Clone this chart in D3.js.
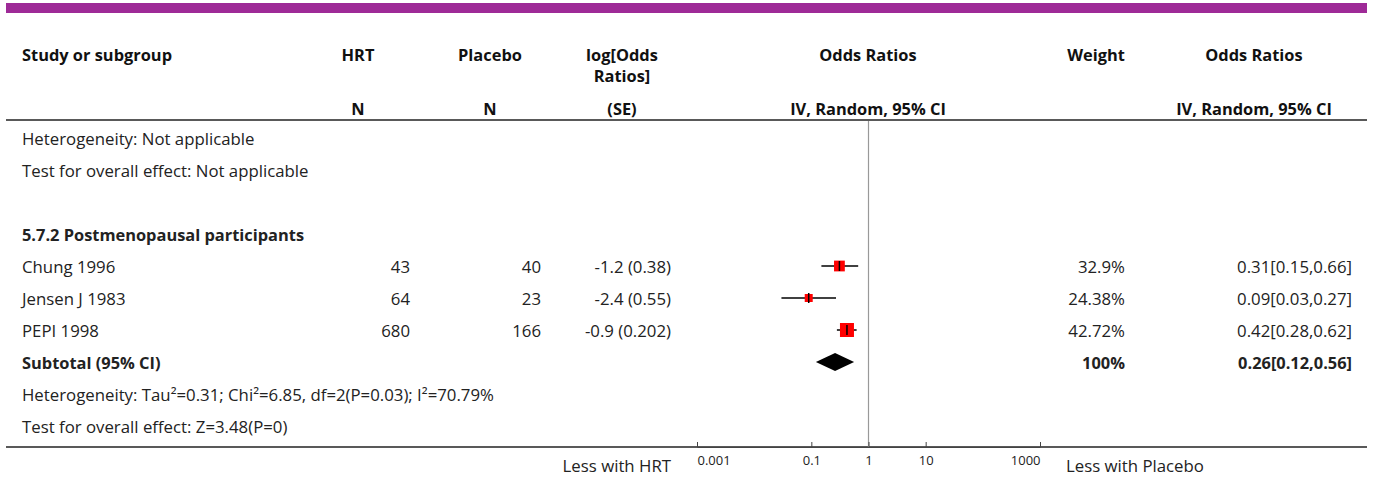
<!DOCTYPE html>
<html>
<head>
<meta charset="utf-8">
<script src="https://cdn.jsdelivr.net/npm/d3@7"></script>
<style>
  body { margin: 0; background: #fff; }
  svg { display: block; font-family: "Open Sans", "Noto Sans", sans-serif; }
</style>
</head>
<body>
<script>
const width  = 1373
const height = 477

// data
const studies   = ["Chung 1996", "Jensen J 1983", "PEPI 1998"];
const hrtN      = [43, 64, 680];
const placeboN  = [40, 23, 166];
const logOR     = [-1.2, -2.4, -0.9];
const logSE     = ["0.38", "0.55", "0.202"];
const weights   = [32.9, 24.38, 42.72];
const orEst     = [0.31, 0.09, 0.42];
const orLow     = [0.15, 0.03, 0.28];
const orHigh    = [0.66, 0.27, 0.62];
const subtotal  = {est: 0.26, low: 0.12, high: 0.56, weight: "100%"};
const axisTicks = [0.001, 0.1, 1, 10, 1000];
const textRows  = [
  "Heterogeneity: Not applicable",
  "Test for overall effect: Not applicable",
  "",
  "5.7.2 Postmenopausal participants"
];
const footRows  = [
  "Heterogeneity: Tau²=0.31; Chi²=6.85, df=2(P=0.03); I²=70.79%",
  "Test for overall effect: Z=3.48(P=0)"
];

const fmtW = w => w + "%";
const fmtCI = (e, l, h) => `${e.toFixed(2)}[${l.toFixed(2)},${h.toFixed(2)}]`;

const svg = d3.select("body").append("svg")
  .attr("width", width)
  .attr("height", height)
  .attr("viewBox", [0, 0, width, height]);

const fs = 16.8;   // body text
const fsh = 16.4;  // bold header

// row positions
const row = d3.scaleLinear().domain([0, 9]).range([139, 427]);
const x = d3.scaleLog().domain([0.001, 1000]).range([697, 1040]);
const side = d3.scaleLinear().domain([0, 42.72]).range([0, 14]);

// purple band on top
svg.append("rect")
  .attr("x", 6).attr("y", 3)
  .attr("width", 1361).attr("height", 10)
  .attr("fill", "#9e2a97");

// header
const head = svg.append("g")
  .attr("font-weight", "bold")
  .attr("font-size", fsh)
  .attr("fill", "#111");

const headCols = [
  {x: 22,   anchor: "start",  l1: ["Study or subgroup"], l2: ""},
  {x: 358,  anchor: "middle", l1: ["HRT"], l2: "N"},
  {x: 490,  anchor: "middle", l1: ["Placebo"], l2: "N"},
  {x: 622,  anchor: "middle", l1: ["log[Odds", "Ratios]"], l2: "(SE)"},
  {x: 868,  anchor: "middle", l1: ["Odds Ratios"], l2: "IV, Random, 95% CI"},
  {x: 1096, anchor: "middle", l1: ["Weight"], l2: ""},
  {x: 1254, anchor: "middle", l1: ["Odds Ratios"], l2: "IV, Random, 95% CI"}
];

headCols.forEach(c => {
  c.l1.forEach((t, i) => {
    head.append("text")
      .attr("x", c.x).attr("y", 61 + i * 21)
      .attr("text-anchor", c.anchor)
      .text(t);
  });
  head.append("text")
    .attr("x", c.x).attr("y", 115)
    .attr("text-anchor", c.anchor)
    .text(c.l2);
});

// rules
svg.selectAll("line.rule")
  .data([120, 447])
  .join("line")
  .attr("class", "rule")
  .attr("x1", 6).attr("x2", 1367)
  .attr("y1", d => d).attr("y2", d => d)
  .attr("stroke", "#222")
  .attr("stroke-width", 1.5);

// line of no effect
svg.append("line")
  .attr("x1", x(1)).attr("x2", x(1))
  .attr("y1", 121).attr("y2", 447)
  .attr("stroke", "#999")
  .attr("stroke-width", 1.2);

const body = svg.append("g")
  .attr("font-size", fs)
  .attr("fill", "#222");

// plain text rows
textRows.forEach((t, i) => {
  body.append("text")
    .attr("x", 22).attr("y", row(i) + 6)
    .attr("font-weight", i === 3 ? "bold" : null)
    .attr("font-size", i === 3 ? fsh : null)
    .text(t);
});

// study rows
studies.forEach((s, i) => {
  const y = row(i + 4) + 6;
  body.append("text").attr("x", 22).attr("y", y).text(s);
  body.append("text").attr("x", 410).attr("y", y).attr("text-anchor", "end").text(hrtN[i]);
  body.append("text").attr("x", 541).attr("y", y).attr("text-anchor", "end").text(placeboN[i]);
  body.append("text").attr("x", 671).attr("y", y).attr("text-anchor", "end")
    .text(`${logOR[i]} (${logSE[i]})`);
  body.append("text").attr("x", 1125).attr("y", y).attr("text-anchor", "end").text(fmtW(weights[i]));
  body.append("text").attr("x", 1352).attr("y", y).attr("text-anchor", "end")
    .text(fmtCI(orEst[i], orLow[i], orHigh[i]));
});

// subtotal row
const sy = row(7) + 6;
const bold = body.append("g").attr("font-weight", "bold").attr("font-size", fsh);
bold.append("text").attr("x", 22).attr("y", sy).text("Subtotal (95% CI)");
bold.append("text").attr("x", 1125).attr("y", sy).attr("text-anchor", "end").text(subtotal.weight);
bold.append("text").attr("x", 1352).attr("y", sy).attr("text-anchor", "end")
  .text(fmtCI(subtotal.est, subtotal.low, subtotal.high));

footRows.forEach((t, i) => {
  body.append("text").attr("x", 22).attr("y", row(8 + i) + 6).text(t);
});

// forest marks
const marks = svg.append("g");
const idx = d3.range(studies.length);

marks.selectAll("line.ci")
  .data(idx)
  .join("line")
  .attr("x1", i => x(orLow[i])).attr("x2", i => x(orHigh[i]))
  .attr("y1", i => row(i + 4) - 1).attr("y2", i => row(i + 4) - 1)
  .attr("stroke", "#000")
  .attr("stroke-width", 1.5);

marks.selectAll("rect.sq")
  .data(idx)
  .join("rect")
  .attr("x", i => x(orEst[i]) - side(weights[i]) / 2)
  .attr("y", i => row(i + 4) - 1 - side(weights[i]) / 2)
  .attr("width", i => side(weights[i]))
  .attr("height", i => side(weights[i]))
  .attr("fill", "#ff0000");

marks.selectAll("line.tick")
  .data(idx)
  .join("line")
  .attr("x1", i => x(orEst[i])).attr("x2", i => x(orEst[i]))
  .attr("y1", i => row(i + 4) - 6).attr("y2", i => row(i + 4) + 4)
  .attr("stroke", "#000")
  .attr("stroke-width", 1.5);

const dy = row(7) - 1;
marks.append("path")
  .attr("d", `M${x(subtotal.low)},${dy} L${x(subtotal.est)},${dy - 9} L${x(subtotal.high)},${dy} L${x(subtotal.est)},${dy + 9} Z`)
  .attr("fill", "#000");

// axis
const axis = svg.append("g")
  .attr("transform", "translate(0,447)")
  .call(d3.axisBottom(x)
    .tickValues(axisTicks)
    .tickFormat(d => String(d))
    .tickSizeInner(-5)
    .tickSizeOuter(0)
    .tickPadding(9));
axis.select(".domain").attr("stroke", "#444");
axis.selectAll(".tick line").attr("stroke", "#444");
axis.selectAll(".tick text")
  .attr("font-family", "'Open Sans', sans-serif")
  .attr("font-size", 13)
  .attr("fill", "#222")
  .attr("text-anchor", (d, i) => i === 0 ? "start" : i === axisTicks.length - 1 ? "end" : "middle");

svg.append("text")
  .attr("x", 671).attr("y", 472)
  .attr("text-anchor", "end")
  .attr("font-size", fs).attr("fill", "#222")
  .text("Less with HRT");
svg.append("text")
  .attr("x", 1066).attr("y", 472)
  .attr("font-size", fs).attr("fill", "#222")
  .text("Less with Placebo");
</script>
</body>
</html>
